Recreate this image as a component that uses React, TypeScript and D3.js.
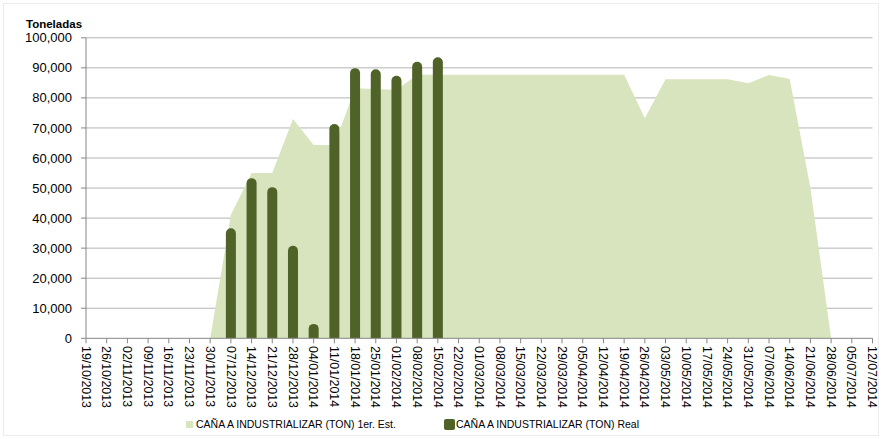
import React from 'react';
import * as d3 from 'd3';

// weekly dates shown on the category axis
const weeks = [
  '19/10/2013', '26/10/2013', '02/11/2013', '09/11/2013', '16/11/2013', '23/11/2013',
  '30/11/2013', '07/12/2013', '14/12/2013', '21/12/2013', '28/12/2013', '04/01/2014',
  '11/01/2014', '18/01/2014', '25/01/2014', '01/02/2014', '08/02/2014', '15/02/2014',
  '22/02/2014', '01/03/2014', '08/03/2014', '15/03/2014', '22/03/2014', '29/03/2014',
  '05/04/2014', '12/04/2014', '19/04/2014', '26/04/2014', '03/05/2014', '10/05/2014',
  '17/05/2014', '24/05/2014', '31/05/2014', '07/06/2014', '14/06/2014', '21/06/2014',
  '28/06/2014', '05/07/2014', '12/07/2014',
];

// 1er. Est. (area)
const estimado: (number | null)[] = [
  null, null, null, null, null, null,
  0, 41000, 55000, 55000, 73000, 64300,
  64300, 83200, 83000, 82600, 87700, 87700,
  87700, 87700, 87700, 87700, 87700, 87700,
  87700, 87700, 87700, 73200, 86200, 86200,
  86200, 86200, 84900, 87600, 86300, 50000,
  0, null, null,
];

// Real (bars)
const real: (number | null)[] = [
  null, null, null, null, null, null,
  null, 36600, 53300, 50300, 30800, 4800,
  71300, 89900, 89500, 87400, 92000, 93500,
  null, null, null, null, null, null,
  null, null, null, null, null, null,
  null, null, null, null, null, null,
  null, null, null,
];

const yTicks = [0, 10000, 20000, 30000, 40000, 50000, 60000, 70000, 80000, 90000, 100000];

const seriesNames = ['CAÑA A INDUSTRIALIZAR (TON) 1er. Est.', 'CAÑA A INDUSTRIALIZAR (TON) Real'];

const W = 882;
const H = 439;
const FONT = '"Liberation Sans", Arial, sans-serif';
const AREA_COLOR = '#D7E4BD';
const BAR_COLOR = '#4F6228';

export default function App() {
  const x = d3.scalePoint<string>().domain(weeks).range([86, 872.5]);
  const y = d3.scaleLinear().domain([0, 100000]).range([338.3, 37.8]);
  const fmt = d3.format(',');

  const areaGen = d3.area<number | null>()
    .defined(d => d !== null)
    .x((_, i) => x(weeks[i])!)
    .y0(y(0))
    .y1(d => y(d as number));

  const barW = 10;
  const r = barW / 2;

  return (
    <svg width={W} height={H} style={{ position: 'absolute', left: 0, top: 0, background: '#fff' }}
      fontFamily={FONT}>
      <rect x={3.5} y={3.5} width={W - 7} height={H - 7} fill="#fff" stroke="#ececec" />

      {/* gridlines */}
      {yTicks.filter(t => t > 0).map(t => (
        <line key={t} x1={86} x2={872.5} y1={y(t)} y2={y(t)} stroke="#b4b4b4" strokeWidth={1} />
      ))}

      {/* estimate area */}
      <path d={areaGen(estimado) || ''} fill={AREA_COLOR} />

      {/* real bars with rounded tops */}
      {real.map((v, i) => {
        if (v === null) return null;
        const cx = x(weeks[i])!;
        const top = y(v);
        const bottom = y(0);
        const x0 = cx - barW / 2;
        const x1 = cx + barW / 2;
        const d = `M${x0},${bottom} L${x0},${top + r} A${r},${r} 0 0 1 ${x1},${top + r} L${x1},${bottom} Z`;
        return <path key={i} d={d} fill={BAR_COLOR} />;
      })}

      {/* y axis */}
      <line x1={86} x2={86} y1={y(100000)} y2={y(0)} stroke="#868686" />
      {yTicks.map(t => (
        <g key={t}>
          <line x1={81} x2={86} y1={y(t)} y2={y(t)} stroke="#868686" />
          <text x={72} y={y(t)} dy="0.35em" textAnchor="end" fontSize={13} fill="#000">
            {fmt(t)}
          </text>
        </g>
      ))}
      <text x={26} y={28} fontSize={11.5} fontWeight="bold" fill="#000">Toneladas</text>

      {/* x axis */}
      <line x1={86} x2={872.5} y1={y(0)} y2={y(0)} stroke="#868686" />
      {weeks.map(w => (
        <g key={w}>
          <line x1={x(w)} x2={x(w)} y1={y(0)} y2={y(0) + 5} stroke="#868686" />
          <text transform={`translate(${x(w)},346) rotate(90)`} dy="0.35em" fontSize={12.4} fill="#000">
            {w}
          </text>
        </g>
      ))}

      {/* legend */}
      <rect x={186} y={421} width={7} height={7} fill={AREA_COLOR} />
      <text x={196} y={424.5} dy="0.35em" fontSize={10.5} fill="#000">{seriesNames[0]}</text>
      <rect x={444} y={419} width={11} height={11} rx={2} fill={BAR_COLOR} />
      <text x={456} y={424.5} dy="0.35em" fontSize={10.5} fill="#000">{seriesNames[1]}</text>
    </svg>
  );
}
